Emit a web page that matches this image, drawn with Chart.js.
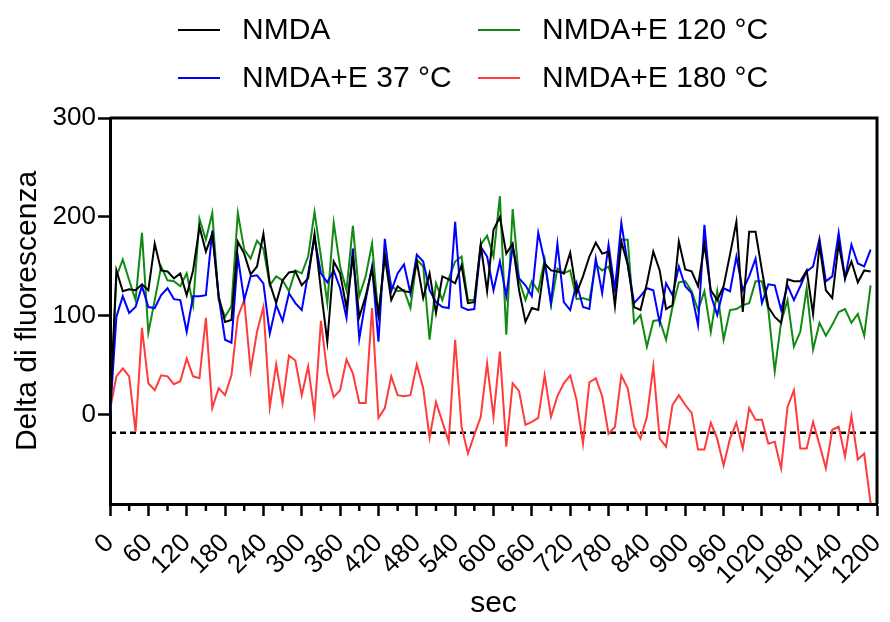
<!DOCTYPE html>
<html>
<head>
<meta charset="utf-8">
<script src="https://cdn.jsdelivr.net/npm/chart.js@4.4.0/dist/chart.umd.min.js"></script>
<style>
  html, body { margin: 0; padding: 0; background: #fff; }
  #wrap { width: 890px; height: 622px; position: relative; }
</style>
</head>
<body>
<div id="wrap"><canvas id="chart"></canvas></div>
<script>
// time base (sec)
const seconds = [0,10,20,30,40,50,60,70,80,90,
  100,110,120,130,140,150,160,170,180,190,
  200,210,220,230,240,250,260,270,280,290,
  300,310,320,330,340,350,360,370,380,390,
  400,410,420,430,440,450,460,470,480,490,
  500,510,520,530,540,550,560,570,580,590,
  600,610,620,630,640,650,660,670,680,690,
  700,710,720,730,740,750,760,770,780,790,
  800,810,820,830,840,850,860,870,880,890,
  900,910,920,930,940,950,960,970,980,990,
  1000,1010,1020,1030,1040,1050,1060,1070,1080,1090,
  1100,1110,1120,1130,1140,1150,1160,1170,1180,1190];

const nmda = [0,146,125,127,126,132,126,173,146,145,
  138,143,121,146,190,165,183,120,94,96,
  175,163,142,150,183,133,113,136,144,145,
  131,138,183,126,74,155,143,108,160,99,
  120,148,101,160,116,130,125,124,155,118,
  143,103,140,137,133,151,113,114,172,125,
  187,200,163,173,126,94,108,106,153,146,
  145,143,164,123,140,160,174,163,165,110,
  175,152,109,106,133,165,146,107,111,175,
  147,145,130,172,126,116,130,162,195,104,
  185,185,146,109,99,93,137,135,135,146,
  102,172,126,118,173,138,155,134,146,145];

const nmdaE37 = [0,99,120,103,109,130,109,108,121,128,
  117,116,84,120,120,121,186,120,76,73,
  160,116,140,141,133,82,111,95,123,113,
  106,143,179,143,134,146,128,98,168,77,
  116,150,74,178,125,143,152,123,162,155,
  126,114,109,108,195,109,106,107,170,160,
  126,155,120,170,138,131,120,184,155,113,
  173,114,106,133,109,107,158,123,172,126,
  194,152,113,120,128,126,93,133,121,150,
  130,123,91,192,121,101,128,125,160,126,
  140,158,113,132,131,106,131,116,130,145,
  150,178,135,140,184,138,172,153,150,167];

const nmdaE120 = [0,140,157,136,116,184,83,116,150,136,
  135,130,143,111,198,177,204,116,99,110,
  204,167,158,176,168,131,140,136,125,146,
  143,160,205,160,113,194,150,126,191,120,
  140,173,99,163,131,125,126,108,157,150,
  76,133,116,138,155,160,116,116,172,181,
  160,221,81,208,136,116,135,125,157,111,
  148,143,146,117,118,116,152,146,150,128,
  177,177,93,101,69,95,96,76,109,134,
  135,125,106,125,84,125,76,106,107,111,
  113,135,135,106,44,94,116,69,84,128,
  66,93,80,91,104,107,93,102,80,131];

const nmdaE180 = [5,39,47,39,-17,88,32,25,40,39,
  31,34,57,39,37,98,7,27,20,40,
  99,116,45,84,109,8,51,12,60,55,
  20,49,1,95,42,18,25,56,42,12,
  12,108,-3,7,39,20,19,20,51,27,
  -23,13,-7,-27,76,-12,-39,-20,-2,52,
  -2,64,-32,32,24,-10,-7,-3,40,-2,
  19,32,40,15,-29,33,37,19,-19,-12,
  40,27,-12,-24,-2,49,-24,-32,10,20,
  10,2,-35,-35,-8,-24,-51,-24,-8,-34,
  7,-5,-5,-29,-27,-54,8,25,-34,-34,
  -7,-30,-54,-15,-12,-42,-1,-45,-39,-89];

const baselineValue = -18;
const baselineX = [0, 1200];

const xTickLabels = [0,60,120,180,240,300,360,420,480,540,600,660,720,780,840,900,960,1020,1080,1140,1200];
const xMinorTicks = [30,90,150,210,270,330,390,450,510,570,630,690,750,810,870,930,990,1050,1110,1170];
const yTickLabels = [0,100,200,300];

const FONT = "'Liberation Sans', Arial, sans-serif";

const toPoints = values => values.map((v, i) => ({ x: seconds[i], y: v }));

// frame (top/right), minor x ticks and two-column legend
const framePlugin = {
  id: 'frame',
  afterDraw(chart) {
    const { ctx, chartArea: a, scales } = chart;
    ctx.save();
    ctx.strokeStyle = '#000';
    ctx.lineWidth = 3;
    ctx.beginPath();
    ctx.moveTo(a.left, a.top);
    ctx.lineTo(a.right, a.top);
    ctx.lineTo(a.right, a.bottom);
    ctx.stroke();

    ctx.lineWidth = 2.5;
    xMinorTicks.forEach(v => {
      const x = scales.x.getPixelForValue(v);
      ctx.beginPath();
      ctx.moveTo(x, a.bottom);
      ctx.lineTo(x, a.bottom + 7);
      ctx.stroke();
    });

    const slots = [[178, 30], [178, 78], [478, 30], [478, 78]];
    ctx.font = '30px ' + FONT;
    ctx.textBaseline = 'middle';
    ctx.fillStyle = '#000';
    slots.forEach(([x, y], i) => {
      const ds = chart.data.datasets[i];
      ctx.strokeStyle = ds.borderColor;
      ctx.lineWidth = 2;
      ctx.beginPath();
      ctx.moveTo(x, y);
      ctx.lineTo(x + 42, y);
      ctx.stroke();
      ctx.fillText(ds.label, x + 64, y + 1);
    });
    ctx.restore();
  }
};

const lineStyle = color => ({
  borderColor: color,
  backgroundColor: color,
  borderWidth: 2,
  pointRadius: 0,
  tension: 0,
  fill: false
});

new Chart(document.getElementById('chart'), {
  type: 'line',
  data: {
    datasets: [
      { label: 'NMDA', data: toPoints(nmda), ...lineStyle('#000000') },
      { label: 'NMDA+E 37 °C', data: toPoints(nmdaE37), ...lineStyle('#0000ff') },
      { label: 'NMDA+E 120 °C', data: toPoints(nmdaE120), ...lineStyle('#118a11') },
      { label: 'NMDA+E 180 °C', data: toPoints(nmdaE180), ...lineStyle('#ff3b3b') },
      {
        label: 'baseline',
        data: baselineX.map(x => ({ x: x, y: baselineValue })),
        borderColor: '#000', borderWidth: 2.5, borderDash: [6, 4],
        pointRadius: 0, fill: false
      }
    ]
  },
  options: {
    responsive: true,
    maintainAspectRatio: false,
    animation: false,
    layout: { padding: { top: 118, right: 13, left: 0, bottom: 0 } },
    plugins: {
      legend: { display: false },
      tooltip: { enabled: false }
    },
    scales: {
      x: {
        type: 'linear',
        min: 0,
        max: 1200,
        afterBuildTicks: axis => { axis.ticks = xTickLabels.map(v => ({ value: v })); },
        afterFit: axis => {
          axis.height = 118;
          axis.paddingLeft = 0;
          axis.paddingRight = 0;
        },
        ticks: {
          minRotation: 45, maxRotation: 45, autoSkip: false,
          font: { size: 26, family: FONT }, color: '#000', padding: 12,
          callback: v => String(v)
        },
        grid: { drawOnChartArea: false, tickLength: 12, tickWidth: 2.5, tickColor: '#000' },
        border: { color: '#000', width: 3 },
        title: { display: true, text: 'sec', font: { size: 30, family: FONT }, color: '#000', padding: { top: 4, bottom: 0 } }
      },
      y: {
        min: -90,
        max: 300,
        afterBuildTicks: axis => { axis.ticks = yTickLabels.map(v => ({ value: v })); },
        afterFit: axis => {
          axis.width = 110;
          axis.paddingTop = 0;
          axis.paddingBottom = 0;
        },
        ticks: { font: { size: 26, family: FONT }, color: '#000', padding: 2 },
        grid: { drawOnChartArea: false, tickLength: 12, tickWidth: 2.5, tickColor: '#000' },
        border: { color: '#000', width: 3 },
        title: { display: true, text: 'Delta di fluorescenza', font: { size: 30, family: FONT }, color: '#000', padding: { top: 10, bottom: 0 } }
      }
    }
  },
  plugins: [framePlugin]
});
</script>
</body>
</html>
